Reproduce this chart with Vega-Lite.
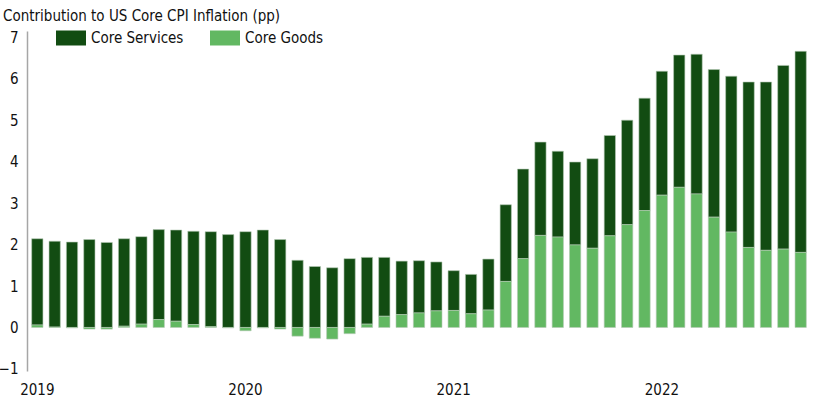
{
  "$schema": "https://vega.github.io/schema/vega-lite/v6.json",
  "autosize": {"type": "none"},
  "padding": {"left": 27, "top": 31, "right": 4, "bottom": 29},
  "width": 784,
  "height": 340,
  "title": {
    "text": "Contribution to US Core CPI Inflation (pp)",
    "anchor": "start",
    "frame": "group",
    "dx": -24,
    "dy": 1,
    "offset": 0,
    "fontSize": 15,
    "fontWeight": "normal",
    "color": "#111111"
  },
  "config": {
    "font": "DejaVu Sans Condensed, Roboto, sans-serif",
    "view": {"stroke": null}
  },
  "data": {
    "values": [
      {"month": "2019-01", "services": 2.08, "goods": 0.06},
      {"month": "2019-02", "services": 2.07, "goods": 0.01},
      {"month": "2019-03", "services": 2.06, "goods": -0.01},
      {"month": "2019-04", "services": 2.12, "goods": -0.04},
      {"month": "2019-05", "services": 2.05, "goods": -0.04},
      {"month": "2019-06", "services": 2.11, "goods": 0.03},
      {"month": "2019-07", "services": 2.11, "goods": 0.08},
      {"month": "2019-08", "services": 2.17, "goods": 0.19},
      {"month": "2019-09", "services": 2.20, "goods": 0.15},
      {"month": "2019-10", "services": 2.25, "goods": 0.07},
      {"month": "2019-11", "services": 2.29, "goods": 0.02},
      {"month": "2019-12", "services": 2.24, "goods": -0.01},
      {"month": "2020-01", "services": 2.31, "goods": -0.08},
      {"month": "2020-02", "services": 2.35, "goods": -0.01},
      {"month": "2020-03", "services": 2.12, "goods": -0.04},
      {"month": "2020-04", "services": 1.62, "goods": -0.21},
      {"month": "2020-05", "services": 1.47, "goods": -0.26},
      {"month": "2020-06", "services": 1.44, "goods": -0.28},
      {"month": "2020-07", "services": 1.66, "goods": -0.15},
      {"month": "2020-08", "services": 1.61, "goods": 0.08},
      {"month": "2020-09", "services": 1.42, "goods": 0.27},
      {"month": "2020-10", "services": 1.29, "goods": 0.31},
      {"month": "2020-11", "services": 1.26, "goods": 0.35},
      {"month": "2020-12", "services": 1.18, "goods": 0.40},
      {"month": "2021-01", "services": 0.96, "goods": 0.41},
      {"month": "2021-02", "services": 0.95, "goods": 0.33},
      {"month": "2021-03", "services": 1.23, "goods": 0.42},
      {"month": "2021-04", "services": 1.85, "goods": 1.11},
      {"month": "2021-05", "services": 2.16, "goods": 1.66},
      {"month": "2021-06", "services": 2.25, "goods": 2.22},
      {"month": "2021-07", "services": 2.07, "goods": 2.18},
      {"month": "2021-08", "services": 2.00, "goods": 1.99},
      {"month": "2021-09", "services": 2.16, "goods": 1.91},
      {"month": "2021-10", "services": 2.42, "goods": 2.21},
      {"month": "2021-11", "services": 2.52, "goods": 2.48},
      {"month": "2021-12", "services": 2.71, "goods": 2.82},
      {"month": "2022-01", "services": 2.99, "goods": 3.19},
      {"month": "2022-02", "services": 3.19, "goods": 3.38},
      {"month": "2022-03", "services": 3.37, "goods": 3.22},
      {"month": "2022-04", "services": 3.56, "goods": 2.66},
      {"month": "2022-05", "services": 3.76, "goods": 2.30},
      {"month": "2022-06", "services": 3.99, "goods": 1.93},
      {"month": "2022-07", "services": 4.06, "goods": 1.86},
      {"month": "2022-08", "services": 4.43, "goods": 1.89},
      {"month": "2022-09", "services": 4.85, "goods": 1.81}
    ]
  },
  "encoding": {
    "x": {
      "field": "month",
      "type": "ordinal",
      "scale": {"paddingInner": 0.35, "paddingOuter": 0.27},
      "axis": {
        "title": null,
        "domain": false,
        "ticks": false,
        "labelAngle": 0,
        "labelOverlap": false,
        "labelPadding": 11,
        "labelFontSize": 15,
        "labelColor": "#111111",
        "labelExpr": "substring(datum.value, 5) == '01' ? substring(datum.value, 0, 4) : ''"
      }
    }
  },
  "layer": [
    {
      "transform": [
        {"fold": ["services", "goods"], "as": ["series", "pp"]}
      ],
      "mark": {"type": "bar", "stroke": "#b5c9b5", "strokeWidth": 0.6},
      "encoding": {
        "y": {
          "field": "pp",
          "type": "quantitative",
          "stack": "zero",
          "scale": {"domain": [-1.05, 7.15], "nice": false, "zero": false},
          "axis": {
            "title": null,
            "values": [-1, 0, 1, 2, 3, 4, 5, 6, 7],
            "grid": false,
            "ticks": false,
            "domainColor": "#a6a6a6",
            "domainWidth": 1.5,
            "labelPadding": 9,
            "labelFontSize": 15,
            "labelColor": "#111111"
          }
        },
        "color": {
          "field": "series",
          "type": "nominal",
          "scale": {"domain": ["services", "goods"], "range": ["#124c12", "#62b862"]},
          "legend": {
            "title": null,
            "orient": "none",
            "legendX": 29,
            "legendY": -8,
            "direction": "horizontal",
            "symbolType": "M-1,-0.5H1V0.5H-1Z",
            "symbolSize": 900,
            "symbolStrokeWidth": 0,
            "symbolOpacity": 1,
            "labelFontSize": 15,
            "labelColor": "#111111",
            "labelOffset": 5,
            "columnPadding": 26,
            "labelExpr": "datum.label == 'services' ? 'Core Services' : 'Core Goods'"
          }
        },
        "order": {"field": "series", "sort": "ascending"}
      }
    },
    {
      "mark": {"type": "rule", "color": "#b3b3b3", "strokeWidth": 2},
      "encoding": {"y": {"datum": 0}}
    }
  ]
}
